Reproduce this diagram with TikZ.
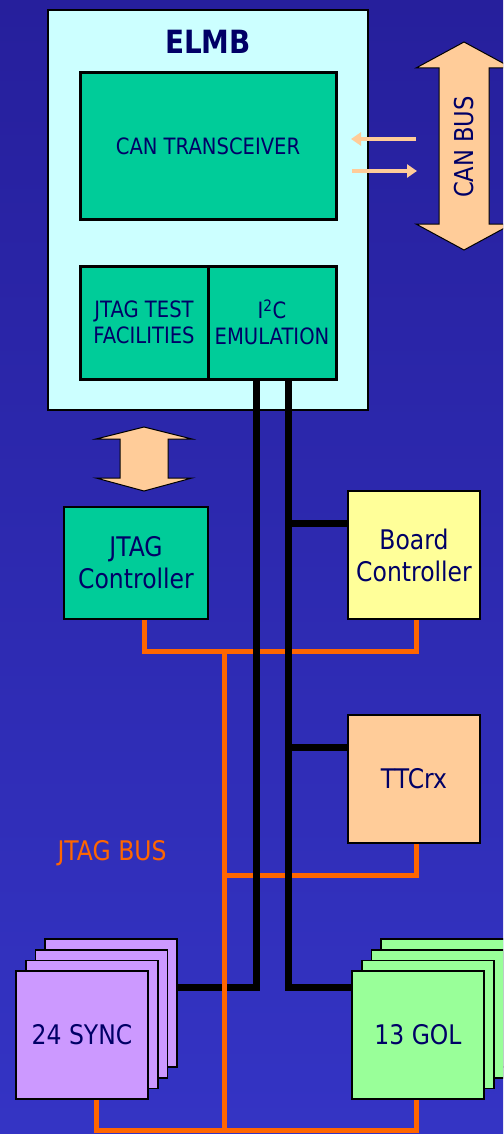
\documentclass[tikz,border=0pt]{standalone}
\usepackage{fontspec}
\setmainfont{DejaVu Sans}[FakeStretch=0.87]
\usetikzlibrary{arrows.meta}
\definecolor{bgtop}{HTML}{261F9C}
\definecolor{bgbot}{HTML}{3434C4}
\definecolor{navy}{HTML}{000066}
\definecolor{elmbfill}{HTML}{CCFFFF}
\definecolor{teal}{HTML}{00CC99}
\definecolor{peach}{HTML}{FFCC99}
\definecolor{lyellow}{HTML}{FFFF99}
\definecolor{lilac}{HTML}{CC99FF}
\definecolor{lgreen}{HTML}{99FF99}
\definecolor{jorange}{HTML}{FF6600}
\begin{document}
\begin{tikzpicture}[x=1pt,y=-1pt,
  box/.style={draw=black, line width=1.5pt, minimum width=132pt, minimum height=128pt,
    inner sep=0pt, text=navy, align=center, font=\fontsize{27}{32}\selectfont},
  inbox/.style={draw=black, line width=3pt, fill=teal, inner sep=0pt, text=navy,
    align=center, font=\fontsize{22.5}{26}\selectfont},
  i2cwire/.style={draw=black, line width=7pt, line join=miter},
  jtagwire/.style={draw=jorange, line width=5pt, line join=miter},
  fatarrow/.style={fill=peach, draw=black, line width=1pt, line join=miter},
  thinarrow/.style={draw=peach, line width=4pt, -{Triangle[length=10pt,width=13pt]}}]
\useasboundingbox (0,0) rectangle (503,1134);
\clip (0,0) rectangle (503,1134);
\shade[top color=bgtop, bottom color=bgbot] (0,0) rectangle (503,1134);

% ELMB
\node[draw=black, line width=1.2pt, fill=elmbfill, minimum width=320pt, minimum height=400pt, inner sep=0pt] (elmb) at (208,210) {};
\node[text=navy, font=\fontsize{32}{36}\selectfont\bfseries, inner sep=0pt] (elmbt) at (208,42) {ELMB};
\node[inbox, minimum width=256pt, minimum height=146pt] (cant) at (208,146) {CAN TRANSCEIVER};
\node[inbox, minimum width=128pt, minimum height=113pt] (jtt) at (144,322.5) {JTAG TEST\\FACILITIES};
\node[inbox, minimum width=128pt, minimum height=113pt] (i2c) at (272,322.5) {I\textsuperscript{2}C\\EMULATION};

% CAN BUS arrow
\path[fatarrow] (464,42) -- (416,68) -- (439,68) -- (439,224) -- (416,224) -- (464,250)
  -- (512,224) -- (489,224) -- (489,68) -- (512,68) -- cycle;
\node[rotate=90, text=navy, font=\fontsize{26}{30}\selectfont, inner sep=0pt] (canbus) at (464,147) {CAN BUS};
\coordinate (ca1) at (416,139);
\coordinate (ca2) at (351,139);
\coordinate (cb1) at (352,171);
\coordinate (cb2) at (417,171);
\draw[thinarrow] (ca1) -- (ca2);
\draw[thinarrow] (cb1) -- (cb2);

% JTAG double arrow
\path[fatarrow] (144,427) -- (96,439) -- (120,439) -- (120,478) -- (96,478) -- (144,491)
  -- (192,478) -- (168,478) -- (168,439) -- (192,439) -- cycle;

% Devices
\node[box, fill=teal, minimum width=144pt, minimum height=112pt] (jctl) at (136,563) {JTAG\\Controller};
\node[box, fill=lyellow] (board) at (414,555) {Board\\Controller};
\node[box, fill=peach] (ttc) at (414,779) {TTCrx};

\node[box, fill=lilac] (sync4) at (111,1003) {};
\node[box, fill=lilac] (sync3) at (101.5,1014) {};
\node[box, fill=lilac] (sync2) at (92,1024.5) {};
\node[box, fill=lilac] (sync) at (82,1035) {24 SYNC};

\node[box, fill=lgreen] (gol4) at (447,1003) {};
\node[box, fill=lgreen] (gol3) at (437.5,1014) {};
\node[box, fill=lgreen] (gol2) at (428,1024.5) {};
\node[box, fill=lgreen] (gol) at (418,1035) {13 GOL};

% JTAG bus (upper part, under I2C wires)
\draw[jtagwire] (jctl.south -| 144,0) -- (144,651) -- (416,651) -- (board.south -| 416,0);
\draw[jtagwire] (ttc.south -| 416,0) -- (416,875) -- (224,875);

% I2C wires
\draw[i2cwire] (i2c.south -| 256,0) -- (256,987) -- (sync4.east |- 0,987);
\draw[i2cwire] (i2c.south -| 288,0) -- (288,987) -- (gol.west |- 0,987);
\draw[i2cwire] (288,523) -- (board.west |- 0,523);
\draw[i2cwire] (288,747) -- (ttc.west |- 0,747);

% JTAG bus (vertical trunk and bottom, over I2C wires)
\draw[jtagwire] (224,651) -- (224,1130);
\draw[jtagwire] (sync.south -| 96,0) -- (96,1130) -- (416,1130) -- (gol.south -| 416,0);

\node[text=jorange, font=\fontsize{27}{32}\selectfont, inner sep=0pt] (jbus) at (112,853) {JTAG BUS};
\end{tikzpicture}
\end{document}
